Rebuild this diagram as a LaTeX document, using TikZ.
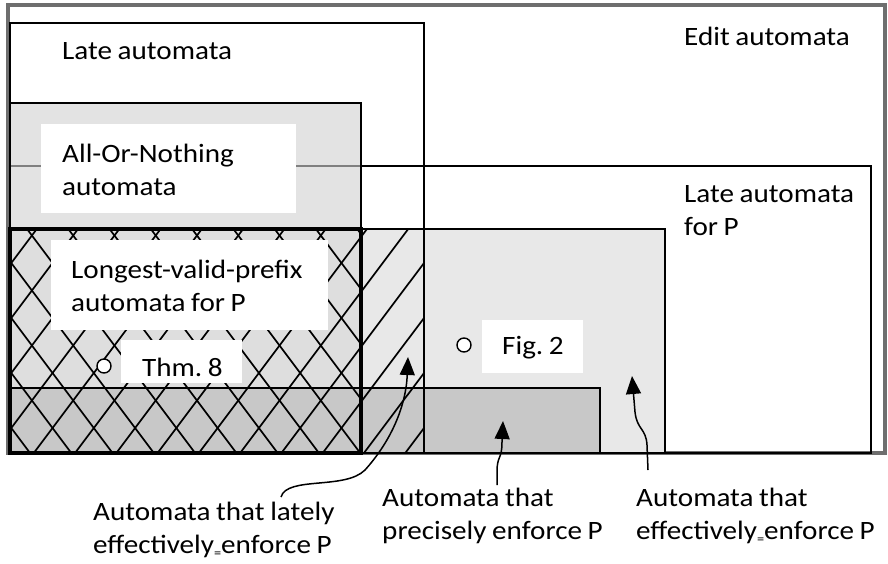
\documentclass[tikz,border=0pt]{standalone}
\usepackage{fontspec}
\setmainfont{Carlito}[FakeStretch=1.1,WordSpace=0.85]
\usetikzlibrary{arrows.meta}
\frenchspacing
\definecolor{aongray}{HTML}{E3E3E3}
\definecolor{effgray}{HTML}{E8E8E8}
\definecolor{lvpgray}{HTML}{DEDEDE}
\definecolor{pregray}{HTML}{C8C8C8}
\definecolor{edgegray}{HTML}{6E6E6E}
\newcommand\eqsub{\raisebox{-0.35ex}{\fontsize{13}{13}\selectfont =}}
\begin{document}
\begin{tikzpicture}[x=1pt,y=-1pt,
  txt/.style={font=\fontsize{26.5}{33}\selectfont, align=left, inner sep=0pt, anchor=west},
  labelbox/.style={fill=white, draw=none, inner sep=0pt, anchor=north west},
  frame/.style={draw=black, line width=1.8pt},
  hatch/.style={line width=1.7pt},
  dot/.style={circle, draw=black, fill=white, line width=1.4pt, minimum size=14pt, inner sep=0pt},
  pointer/.style={line width=1.5pt, -{Triangle[width=15pt,length=18pt]}}]

\useasboundingbox (0,0) rectangle (888,563);
% outer frame
\draw[edgegray, line width=3.2pt, fill=white] (8,5) rectangle (885,453);
% fills
\fill[aongray] (10,103) rectangle (361,229);
\draw[gray, line width=1.4pt] (10,166) -- (361,166);
\fill[effgray] (10,229) rectangle (665,453);
\fill[lvpgray] (10,229) rectangle (361,388);
\fill[pregray] (10,388) rectangle (600,453);
% hatching
\begin{scope}
  \clip (10,229) rectangle (424,453);
  \foreach \i in {-12,...,4} \draw[hatch] (0,828+55*\i) -- (430,255+55*\i);
\end{scope}
\begin{scope}
  \clip (10,229) rectangle (361,453);
  \foreach \i in {0,...,15} \draw[hatch] (0,-302+55*\i) -- (430,271+55*\i);
\end{scope}
% borders
\draw[frame] (10,23) rectangle (424,453);
\draw[frame] (361,166) -- (871,166) -- (871,453) -- (10,453);
\draw[frame] (10,103) rectangle (361,453);
\draw[line width=2.4pt] (10,229) rectangle (665,453);
\draw[line width=2.4pt] (10,388) rectangle (600,453);
\draw[frame] (10,229) rectangle (424,453);
\draw[line width=4pt] (10,229) rectangle (361,453);

% label boxes
\node[labelbox, minimum width=255pt, minimum height=89pt] (aonbox) at (41,124) {};
\node[txt] (aon) at (62,170) {All-Or-Nothing\\automata};
\node[labelbox, minimum width=277pt, minimum height=90pt] (lvpbox) at (51,240) {};
\node[txt] (lvp) at (71,286) {Longest-valid-prefix\\automata for P};
\node[labelbox, minimum width=121pt, minimum height=43pt] (thmbox) at (121,340) {};
\node[txt] (thm) at (142,367) {Thm. 8};
\node[labelbox, minimum width=101pt, minimum height=53pt] (figbox) at (482,320) {};
\node[txt] (fig) at (502,348) {Fig. 2};
\node[dot] (thmdot) at (104,366) {};
\node[dot] (figdot) at (464,345) {};

\node[txt] (edit) at (684,36) {Edit automata};
\node[txt] (late) at (62,51) {Late automata};
\node[txt] (latep) at (684,211) {Late automata\\for P};

% bottom labels
\node[txt] (lately) at (93,530) {Automata that lately\\effectively\eqsub enforce P};
\node[txt] (precise) at (382,516) {Automata that\\precisely enforce P};
\node[txt] (effective) at (636,516) {Automata that\\effectively\eqsub enforce P};

% arrows
\coordinate (latelytail) at (281,497);
\coordinate (latelytip) at (408,357);
\coordinate (precisetail) at (497,485);
\coordinate (precisetip) at (503,421);
\coordinate (efftail) at (648,470);
\coordinate (efftip) at (632,376);
\draw[pointer] (latelytail) .. controls (287,476) and (345,490) .. (365,470) .. controls (392,440) and (406,405) .. (latelytip);
\draw[pointer] (precisetail) -- (497,472) .. controls (497,455) and (502,460) .. (502,442) -- (precisetip);
\draw[pointer] (efftail) -- (647,445) .. controls (646,428) and (637,430) .. (635,412) -- (efftip);
\end{tikzpicture}
\end{document}
